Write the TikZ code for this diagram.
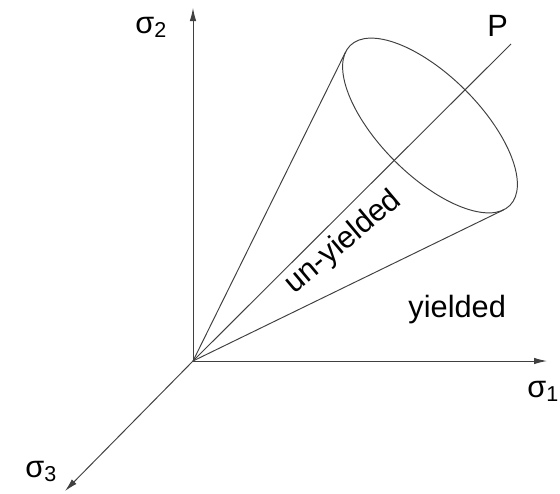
\documentclass[tikz,border=0pt]{standalone}
\usepackage{fontspec}
\setmainfont{Liberation Sans}
\usepackage{tikz}
\usetikzlibrary{arrows.meta}
\definecolor{ink}{HTML}{404040}

\begin{document}
\begin{tikzpicture}[>={Latex[length=.26cm,width=.13cm]},line width=.55pt,
  lbl/.style={inner sep=0pt,anchor=base west,font=\fontsize{17.5}{21}\selectfont}]
\useasboundingbox (-3.86,-2.64) rectangle (7.34,7.22);
\coordinate (O) at (0,0);
\coordinate (s1) at (7.08,0);
\coordinate (s2) at (0,7.06);
\coordinate (s3) at (-2.56,-2.60);
\coordinate (Pend) at (6.36,6.34);
\coordinate (C) at (4.74,4.71);
\coordinate (tA) at (3.054,6.184);
\coordinate (tB) at (6.214,3.024);
% axes
\draw[->,ink](O)--(s1);
\draw[->,ink](O)--(s2);
\draw[->,ink](O)--(s3);
\draw[ink](O)--(Pend);
% cone
\draw[ink](O)--(tA);
\draw[ink](O)--(tB);
\draw[ink,rotate around={45:(C)}](C) ellipse[x radius=1,y radius=2.26];
\node[lbl] (l1) at (6.68,-.72) {σ\textsubscript{1}};
\node[lbl] (l2) at (-1.16,6.56) {σ\textsubscript{2}};
\node[lbl] (l3) at (-3.36,-2.32) {σ\textsubscript{3}};
\node[lbl] (lP) at (5.88,6.5) {P};
\node[lbl] (ly) at (4.30,.88) {yielded};
\node[lbl,anchor=center,rotate=40] (lu) at (3.01,2.37) {un-yielded};
\end{tikzpicture}
\end{document}
